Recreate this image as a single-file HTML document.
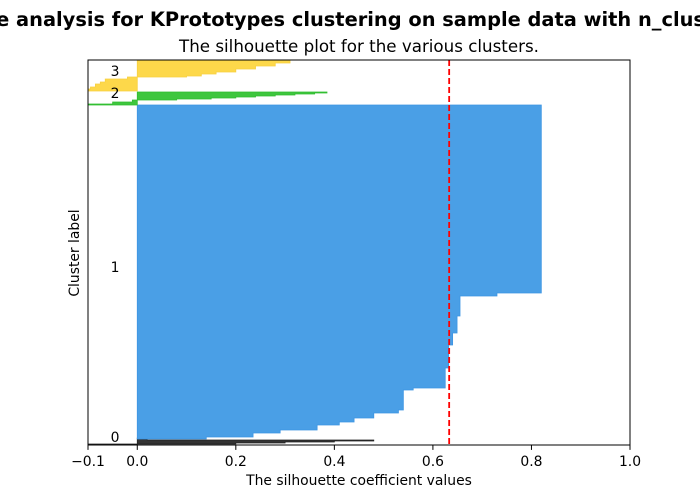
<!DOCTYPE html>
<html><head><meta charset="utf-8"><style>
html,body{margin:0;padding:0;background:#fff;}
svg{display:block;font-family:"DejaVu Sans","Liberation Sans",sans-serif;}
</style></head><body>
<svg id="chart" width="700" height="500">
<text x="344" y="26" font-size="19.4" font-weight="bold" text-anchor="middle">Silhouette analysis for KPrototypes clustering on sample data with n_clusters = 4</text>
<text x="359" y="52" font-size="16.7" text-anchor="middle">The silhouette plot for the various clusters.</text>
<g id="marks"></g>
<rect x="88" y="60" width="542" height="385" fill="none" stroke="#000" stroke-width="1"/>
<g id="ticks"></g>
<text x="359" y="485" font-size="13.9" text-anchor="middle">The silhouette coefficient values</text>
<text transform="translate(79,253) rotate(-90)" font-size="13.9" text-anchor="middle">Cluster label</text>
</svg>
<script>
const xTicks = [-0.1, 0.0, 0.2, 0.4, 0.6, 0.8, 1.0];
const xTickLabels = ["\u22120.1", "0.0", "0.2", "0.4", "0.6", "0.8", "1.0"];
const clusterNames = ["0", "1", "2", "3"];
const clusterColors = ["#333333", "#4a9fe6", "#3ec63e", "#fdd84a"];
const clusterEdges = ["#222222", "#3d95e3", "#2fbd2f", "#f7d040"];
const clusterStart = [0, 6, 340, 354];
const cluster0Tops = [1, 2, 3, 4, 5, 6, 7];
const cluster0Vals = [-0.1, 0.2, 0.3, 0.4, 0.48, 0.02, 0.01];
const cluster1Tops = [8, 12, 15, 20, 23, 27, 32, 35, 55, 57, 77, 100, 112, 129, 149, 152, 340];
const cluster1Vals = [0.14, 0.235, 0.29, 0.365, 0.41, 0.44, 0.48, 0.53, 0.54, 0.56, 0.625, 0.632, 0.64, 0.649, 0.655, 0.73, 0.82];
const cluster2Tops = [341, 343, 345, 346, 347, 348, 349, 350, 351, 352, 353];
const cluster2Vals = [-0.1, -0.05, -0.01, 0.08, 0.15, 0.2, 0.24, 0.28, 0.32, 0.36, 0.385];
const cluster3Tops = [356, 358, 361, 363, 366, 368, 369, 371, 373, 376, 379, 382, 385];
const cluster3Vals = [-0.1, -0.095, -0.085, -0.075, -0.065, -0.02, 0.1, 0.13, 0.16, 0.2, 0.24, 0.28, 0.31];
const clusterLabelY = [8, 178, 352, 374];
const avgScore = 0.633;

const NS = "http://www.w3.org/2000/svg";
const L = 88, R = 630, T = 60, B = 445;
const xMin = -0.1, xMax = 1.0, yMax = 385;
const sx = v => L + (v - xMin) / (xMax - xMin) * (R - L);
const sy = v => B - v / yMax * (B - T);
const marks = document.getElementById("marks");
const ticks = document.getElementById("ticks");
const tops = [cluster0Tops, cluster1Tops, cluster2Tops, cluster3Tops];
const vals = [cluster0Vals, cluster1Vals, cluster2Vals, cluster3Vals];

const clip = document.createElementNS(NS, "clipPath");
clip.setAttribute("id", "pc");
const cr = document.createElementNS(NS, "rect");
cr.setAttribute("x", L); cr.setAttribute("y", T); cr.setAttribute("width", R - L); cr.setAttribute("height", B - T);
clip.appendChild(cr);
marks.appendChild(clip);
marks.setAttribute("clip-path", "url(#pc)");

for (let c = 0; c < 4; c++) {
  let y0 = clusterStart[c];
  let d = "M" + sx(0) + "," + sy(y0);
  for (let i = 0; i < tops[c].length; i++) {
    d += " L" + sx(vals[c][i]) + "," + sy(y0) + " L" + sx(vals[c][i]) + "," + sy(tops[c][i]);
    y0 = tops[c][i];
  }
  d += " L" + sx(0) + "," + sy(y0) + " Z";
  const p = document.createElementNS(NS, "path");
  p.setAttribute("d", d);
  p.setAttribute("fill", clusterColors[c]);
  p.setAttribute("stroke", clusterEdges[c]);
  p.setAttribute("stroke-width", "0.8");
  
  
  marks.appendChild(p);

  const t = document.createElementNS(NS, "text");
  t.setAttribute("x", sx(-0.045));
  t.setAttribute("y", sy(clusterLabelY[c]) + 5);
  t.setAttribute("font-size", "13.9");
  t.setAttribute("text-anchor", "middle");
  t.textContent = clusterNames[c];
  
  
  ticks.appendChild(t);
}

const avg = document.createElementNS(NS, "line");
avg.setAttribute("x1", sx(avgScore)); avg.setAttribute("x2", sx(avgScore));
avg.setAttribute("y1", T); avg.setAttribute("y2", B);
avg.setAttribute("stroke", "#ff0000"); avg.setAttribute("stroke-width", "1.8");
avg.setAttribute("stroke-dasharray", "6,3");


marks.appendChild(avg);

for (let i = 0; i < xTicks.length; i++) {
  const x = sx(xTicks[i]);
  const tl = document.createElementNS(NS, "line");
  tl.setAttribute("x1", x); tl.setAttribute("x2", x);
  tl.setAttribute("y1", B); tl.setAttribute("y2", B + 4.9);
  tl.setAttribute("stroke", "#000");
  
  
  ticks.appendChild(tl);
  const tx = document.createElementNS(NS, "text");
  tx.setAttribute("x", x); tx.setAttribute("y", B + 21);
  tx.setAttribute("font-size", "13.9"); tx.setAttribute("text-anchor", "middle");
  tx.textContent = xTickLabels[i];
  
  
  ticks.appendChild(tx);
}
</script>
</body></html>
